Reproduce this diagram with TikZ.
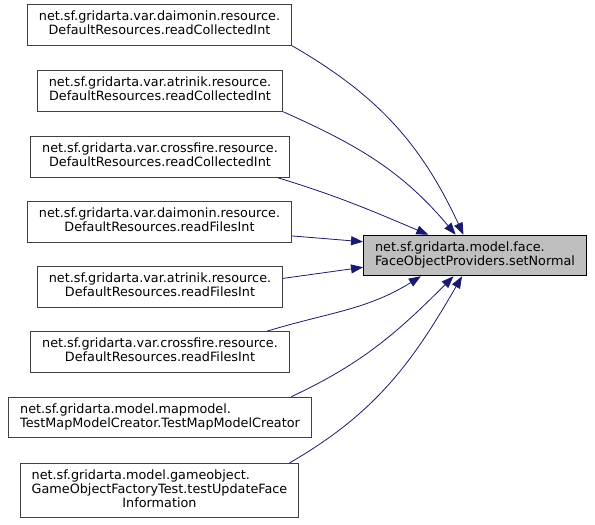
\documentclass[tikz,border=0pt]{standalone}
\usepackage{fontspec}
\setmainfont{DejaVu Sans}
\usetikzlibrary{arrows.meta}
\definecolor{FOEdge}{HTML}{191970}
\definecolor{FOBorder}{HTML}{404040}
\definecolor{FOTarget}{HTML}{BFBFBF}
\newcommand{\fqname}[2]{\begin{tabular}{@{}l@{}}#1\\\multicolumn{1}{@{}c@{}}{#2}\end{tabular}}

\begin{document}
\begin{tikzpicture}[x=1pt,y=1pt,
  fobox/.style={draw=FOBorder,fill=white,line width=1pt,inner xsep=11.5pt,inner ysep=6.5pt,font=\fontsize{12.8}{13.5}\selectfont},
  fotarget/.style={fobox,draw=black,fill=FOTarget},
  focall/.style={draw=FOEdge,line width=0.8pt,-{Triangle[length=12pt,width=9pt]}}]
\path[use as bounding box] (0,0) rectangle (595,525);
% callers
\node[fobox] (b1) at (159.5,500) {\fqname{net.sf.gridarta.var.daimonin.resource.}{DefaultResources.readCollectedInt}};
\node[fobox] (b2) at (160,434) {\fqname{net.sf.gridarta.var.atrinik.resource.}{DefaultResources.readCollectedInt}};
\node[fobox] (b3) at (160,368) {\fqname{net.sf.gridarta.var.crossfire.resource.}{DefaultResources.readCollectedInt}};
\node[fobox] (b4) at (159.5,303) {\fqname{net.sf.gridarta.var.daimonin.resource.}{DefaultResources.readFilesInt}};
\node[fobox] (b5) at (160,238) {\fqname{net.sf.gridarta.var.atrinik.resource.}{DefaultResources.readFilesInt}};
\node[fobox] (b6) at (160,173) {\fqname{net.sf.gridarta.var.crossfire.resource.}{DefaultResources.readFilesInt}};
\node[fobox] (b7) at (160,107.5) {\fqname{net.sf.gridarta.model.mapmodel.}{TestMapModelCreator.TestMapModelCreator}};
\node[fobox] (b8) at (159.5,34.5) {\begin{tabular}{@{}l@{}}net.sf.gridarta.model.gameobject.\\GameObjectFactoryTest.testUpdateFace\\\multicolumn{1}{@{}c@{}}{Information}\end{tabular}};
% callee
\node[fotarget] (t) at (475,269.5) {\fqname{net.sf.gridarta.model.face.}{FaceObjectProviders.setNormal}};
% calls
\draw[focall] (b1.south east) to[out=-30,in=115] (t.119);
\draw[focall] (b2.south east) to[out=-24,in=130] (t.133);
\draw[focall] (b3.-10) to[out=-17,in=157] (t.156);
\draw[focall] (b4.-6) -- (t.173);
\draw[focall] (b5.4) -- (t.-174);
\draw[focall] (b6.11) to[out=17,in=-148] (t.-159);
\draw[focall] (b7.9.5) to[out=25,in=-135] (t.-136);
\draw[focall] (b8.12) to[out=30,in=-120] (t.-122);
\end{tikzpicture}
\end{document}
